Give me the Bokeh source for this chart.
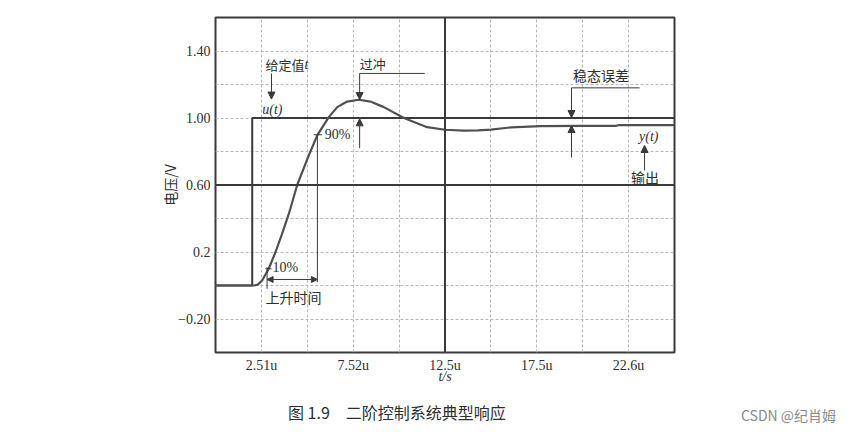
from bokeh.plotting import figure
from bokeh.models import (Span, Label, Arrow, NormalHead, FixedTicker, Range1d, Div)
from bokeh.layouts import column
from bokeh.embed import file_html
from bokeh.resources import INLINE

# ---- data (t in microseconds, voltage in V) ----
step_t = [0.0, 2.0, 2.0, 25.0]
step_v = [0.0, 0.0, 1.0, 1.0]

resp_t = [0.0, 2.1, 2.3, 2.54, 2.9, 3.27, 3.63, 4.0, 4.45, 5.0, 5.54, 6.17,
          6.63, 7.17, 7.81, 8.44, 9.17, 10.26, 11.53, 12.5, 13.5, 14.3,
          15.0, 16.1, 17.7, 20.0, 21.8, 22.0, 25.0]
resp_v = [0.0, 0.0, 0.005, 0.03, 0.10, 0.20, 0.31, 0.43, 0.60, 0.755, 0.896, 1.005,
          1.065, 1.098, 1.109, 1.098, 1.065, 1.0, 0.945, 0.93, 0.925, 0.926,
          0.931, 0.944, 0.952, 0.953, 0.953, 0.958, 0.958]

x_ticks = [2.5, 7.5, 12.5, 17.5, 22.5]
x_tick_labels = ["2.51u", "7.52u", "12.5u", "17.5u", "22.6u"]
y_ticks = [-0.2, 0.2, 0.6, 1.0, 1.4]
y_tick_labels = ["\u22120.20", "0.2", "0.60", "1.00", "1.40"]

caption_text = "图 1.9\u2003二阶控制系统典型响应"
watermark_text = "CSDN @纪肖姆"

DARK = "#3a3a3a"
TXT = "#2e2e2e"
SERIF = "Liberation Serif"
CJK = "Noto Sans CJK SC"

p = figure(width=839, height=400, output_backend="svg", toolbar_location=None,
           x_range=Range1d(0, 25), y_range=Range1d(-0.4, 1.6),
           min_border_left=215, min_border_right=165, min_border_top=17,
           min_border_bottom=48)
p.frame_width = 459
p.frame_height = 335
p.background_fill_color = "white"
p.border_fill_color = "white"
p.outline_line_color = DARK
p.outline_line_width = 2

# grids
p.xgrid.ticker = FixedTicker(ticks=[2.5 * i for i in range(1, 10)])
p.ygrid.ticker = FixedTicker(ticks=[-0.2 + 0.2 * i for i in range(9)])
for g in (p.xgrid, p.ygrid):
    g.grid_line_color = "#b8b8b8"
    g.grid_line_dash = "3 2"
    g.grid_line_width = 1

# axes
p.xaxis.ticker = FixedTicker(ticks=x_ticks)
p.xaxis.major_label_overrides = {t: l for t, l in zip(x_ticks, x_tick_labels)}
p.yaxis.ticker = FixedTicker(ticks=y_ticks)
p.yaxis.major_label_overrides = {t: l for t, l in zip(y_ticks, y_tick_labels)}
for ax in (p.xaxis, p.yaxis):
    ax.axis_line_color = None
    ax.major_tick_line_color = None
    ax.minor_tick_line_color = None
    ax.major_tick_out = 0
    ax.major_tick_in = 0
    ax.minor_tick_out = 0
    ax.minor_tick_in = 0
    ax.major_label_text_font = SERIF
    ax.major_label_text_font_size = "14px"
    ax.major_label_text_color = TXT
    ax.major_label_standoff = 5
p.xaxis.axis_label = "t/s"
p.xaxis.axis_label_text_font = SERIF
p.xaxis.axis_label_text_font_style = "italic"
p.xaxis.axis_label_text_font_size = "14px"
p.xaxis.axis_label_text_color = TXT
p.xaxis.axis_label_standoff = -7
p.yaxis.axis_label = "电压/V"
p.yaxis.axis_label_text_font = CJK
p.yaxis.axis_label_text_font_style = "normal"
p.yaxis.axis_label_text_font_size = "14px"
p.yaxis.axis_label_text_color = TXT
p.yaxis.axis_label_standoff = -5

# thick center lines
p.add_layout(Span(location=0.6, dimension="width", line_color=DARK, line_width=2))
p.add_layout(Span(location=12.5, dimension="height", line_color=DARK, line_width=2))

# step and response
p.line(step_t, step_v, line_color=DARK, line_width=2)
p.line(resp_t, resp_v, line_color="#505050", line_width=2.2, line_join="round")


def arrow(x0, y0, x1, y1):
    p.add_layout(Arrow(end=NormalHead(size=7, fill_color=DARK, line_color=DARK),
                       x_start=x0, y_start=y0, x_end=x1, y_end=y1,
                       line_color=DARK, line_width=1))


def seg(x0, y0, x1, y1):
    p.segment(x0=[x0], y0=[y0], x1=[x1], y1=[y1], line_color=DARK, line_width=1)


def label(x, y, text, font=CJK, size="13px", style="normal", align="left"):
    p.add_layout(Label(x=x, y=y, text=text, text_font=font, text_font_size=size,
                       text_font_style=style, text_color=TXT, text_align=align,
                       text_baseline="middle"))


# 给定值 u(t)
label(2.72, 1.32, "给定值")
label(4.85, 1.32, "t", font=SERIF, size="14px", style="italic")
arrow(3.05, 1.266, 3.05, 1.113)
label(3.1, 1.05, "u(t)", font=SERIF, size="14px", style="italic", align="center")

# 过冲
label(7.85, 1.325, "过冲")
seg(7.85, 1.266, 11.4, 1.266)
arrow(7.85, 1.266, 7.85, 1.11)
arrow(7.85, 0.82, 7.85, 0.995)

# 90%
seg(5.35, 0.90, 5.8, 0.90)
label(5.95, 0.90, "90%", font=SERIF, size="14px")
seg(5.55, 0.90, 5.55, 0.02)

# 10% and rise time
seg(2.72, 0.10, 3.05, 0.10)
label(3.1, 0.107, "10%", font=SERIF, size="14px")
seg(2.81, 0.11, 2.81, -0.02)
p.add_layout(Arrow(start=NormalHead(size=6, fill_color=DARK, line_color=DARK),
                   end=NormalHead(size=6, fill_color=DARK, line_color=DARK),
                   x_start=2.81, y_start=0.036, x_end=5.55, y_end=0.036,
                   line_color=DARK, line_width=1))
label(2.72, -0.07, "上升时间", size="14px")

# 稳态误差
label(21.0, 1.254, "稳态误差", size="14px", align="center")
seg(19.39, 1.18, 23.1, 1.18)
arrow(19.39, 1.18, 19.39, 1.003)
arrow(19.39, 0.764, 19.39, 0.955)

# y(t) and 输出
label(23.6, 0.89, "y(t)", font=SERIF, size="14px", style="italic", align="center")
arrow(23.37, 0.687, 23.37, 0.836)
label(23.4, 0.645, "输出", size="14px", align="center")

# ---- caption strip below the chart ----
strip = Div(width=839, height=32, margin=0, text=(
    '<div style="position:relative;width:839px;height:32px;">'
    f'<span style="position:absolute;left:288px;top:0px;font-family:\'{CJK}\';'
    f'font-size:16px;line-height:24px;color:{TXT};white-space:pre;">{caption_text}</span>'
    f'<span style="position:absolute;left:741px;top:4px;font-family:\'{CJK}\';'
    f'font-size:14px;line-height:22px;color:#8a8a8a;white-space:pre;">{watermark_text}</span>'
    '</div>'))

layout = column(p, strip, spacing=0)
open("out.html", "w").write(file_html(layout, INLINE))
